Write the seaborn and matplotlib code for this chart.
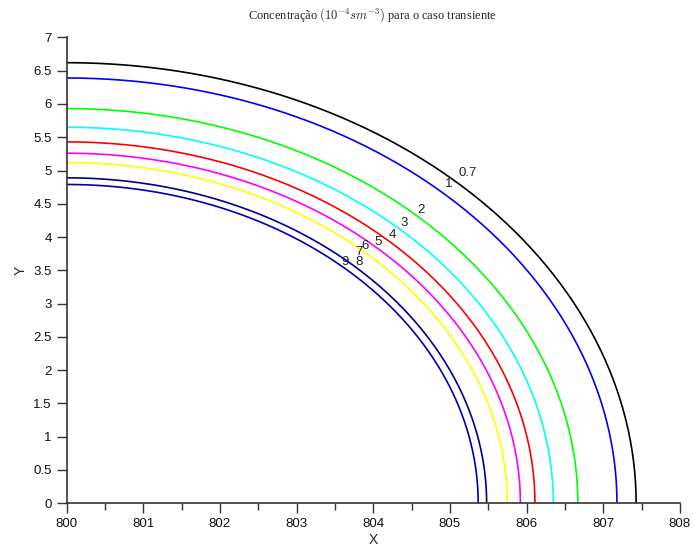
import numpy as np
import pandas as pd
import seaborn as sns
import matplotlib
matplotlib.use('Agg')
import matplotlib.pyplot as plt

# niveis de concentracao e onde cada curva corta os eixos
levels = [0.7, 1, 2, 3, 4, 5, 6, 7, 8, 9]
x_cut = [807.43, 807.18, 806.67, 806.35, 806.11, 805.92, 805.75, 805.61, 805.48, 805.37]
y_cut = [6.62, 6.39, 5.93, 5.65, 5.43, 5.26, 5.12, 5.00, 4.89, 4.79]
line_colors = ['#000000', '#0000ff', '#00ff00', '#00ffff', '#ff0000',
               '#ff00ff', '#ffff00', '#ffffff', '#00008f', '#0000b0']
label_text = ['0.7', '1', '2', '3', '4', '5', '6', '7', '8', '9']
label_pos = [(805.23, 4.96), (804.98, 4.79), (804.63, 4.41), (804.41, 4.21),
             (804.25, 4.03), (804.07, 3.93), (803.90, 3.87), (803.82, 3.78),
             (803.81, 3.62), (803.63, 3.62)]
x_ticks = list(range(800, 809))
y_ticks = [0, 0.5, 1, 1.5, 2, 2.5, 3, 3.5, 4, 4.5, 5, 5.5, 6, 6.5, 7]

x0 = 800.0
t = np.linspace(0, np.pi / 2, 200)
rows = []
for lv, xc, yc in zip(levels, x_cut, y_cut):
    for a in t:
        rows.append({'level': str(lv), 'x': x0 + (xc - x0) * np.cos(a), 'y': yc * np.sin(a)})
df = pd.DataFrame(rows)

sns.set_theme(style='ticks')
plt.rcParams['font.family'] = ['Liberation Sans', 'DejaVu Sans']
plt.rcParams['mathtext.fontset'] = 'cm'

fig = plt.figure(figsize=(6.93, 5.5), dpi=100)
ax = fig.add_axes([0.096, 0.085, 0.885, 0.847])

sns.lineplot(data=df, x='x', y='y', hue='level', palette=dict(zip([str(l) for l in levels], line_colors)),
             sort=False, estimator=None, legend=False, linewidth=1.2, ax=ax)

for txt, (px, py) in zip(label_text, label_pos):
    ax.text(px, py, txt, fontsize=9.5, color='#222222', ha='center', va='center')

ax.set_xlim(800, 808)
ax.set_ylim(0, 7)
ax.set_xticks(x_ticks)
ax.set_xticks(np.arange(800.5, 808, 1.0), minor=True)
ax.set_yticks(y_ticks)
ax.set_yticklabels([('%g' % v) for v in y_ticks])
ax.tick_params(axis='both', which='major', direction='out', length=7, width=1,
               colors='#333333', labelsize=9.5, labelcolor='#111111')
ax.tick_params(axis='x', which='minor', direction='out', length=5, width=1, colors='#333333')
for s in ['top', 'right']:
    ax.spines[s].set_visible(False)
for s in ['left', 'bottom']:
    ax.spines[s].set_color('#333333')
    ax.spines[s].set_linewidth(1.2)

ax.set_xlabel('X', fontsize=10, labelpad=2)
ax.set_ylabel('Y', fontsize=10, labelpad=4)

fig.text(0.537, 0.973, r'Concentração $(10^{-4}sm^{-3})$ para o caso transiente',
         ha='center', va='center', fontsize=9, family=['Liberation Serif', 'DejaVu Serif'])

fig.savefig('out.png', dpi=100)
